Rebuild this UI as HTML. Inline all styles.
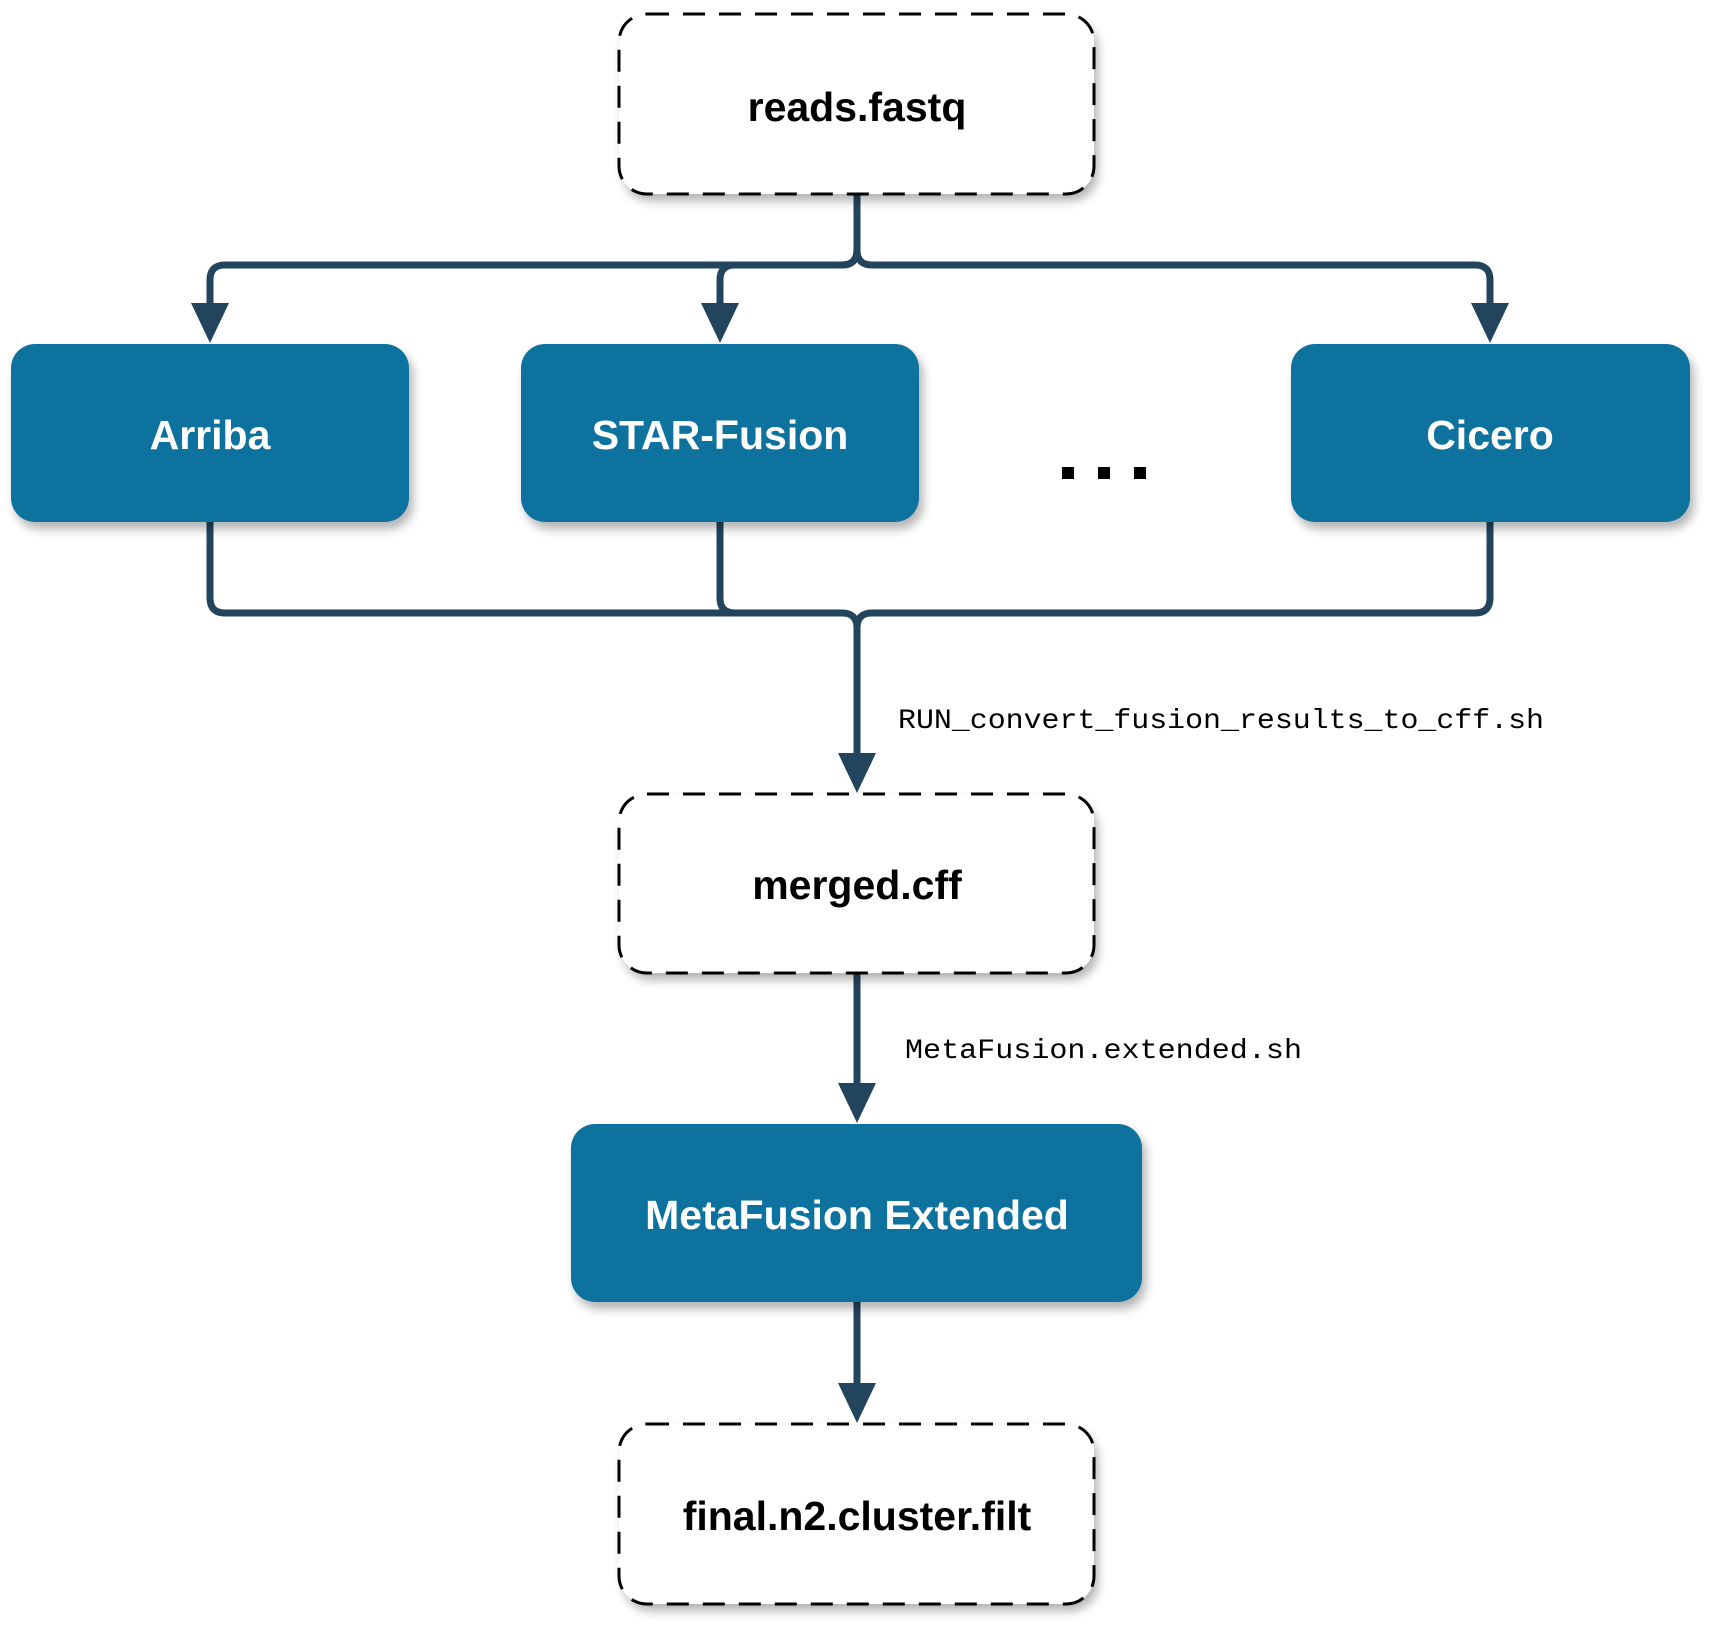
<!DOCTYPE html>
<html><head><meta charset="utf-8"><style>
html,body{margin:0;padding:0;background:#fff;}
svg{display:block;}
</style></head><body>
<svg width="1713" height="1629" viewBox="0 0 1713 1629" xmlns="http://www.w3.org/2000/svg">
<defs>
<filter id="sh" x="-10%" y="-10%" width="130%" height="140%">
<feGaussianBlur in="SourceAlpha" stdDeviation="5"/>
<feOffset dx="4" dy="7" result="o"/>
<feComponentTransfer><feFuncA type="linear" slope="0.3"/></feComponentTransfer>
<feMerge><feMergeNode/><feMergeNode in="SourceGraphic"/></feMerge>
</filter>
</defs>
<g fill="none" stroke="#23445d" stroke-width="7" stroke-linejoin="round">
<!-- top splits -->
<path d="M857 194 V250 Q857 265 842 265 H225 Q210 265 210 280 V310"/>
<path d="M857 250 Q857 265 842 265 H735 Q720 265 720 280 V310" />
<path d="M857 194 V250 Q857 265 872 265 H1475 Q1490 265 1490 280 V310"/>
<!-- merges -->
<path d="M210 522 V598 Q210 613 225 613 H842 Q857 613 857 628 V760"/>
<path d="M720 522 V598 Q720 613 735 613"/>
<path d="M1490 522 V598 Q1490 613 1475 613 H872 Q857 613 857 628"/>
<path d="M857 973 V1092"/>
<path d="M857 1302 V1392"/>
</g>
<g fill="#23445d">
<polygon points="191,303 229,303 210,343"/>
<polygon points="701,303 739,303 720,343"/>
<polygon points="1471,303 1509,303 1490,343"/>
<polygon points="838,753 876,753 857,793"/>
<polygon points="838,1083 876,1083 857,1123"/>
<polygon points="838,1383 876,1383 857,1423"/>
</g>
<g filter="url(#sh)">
<rect x="619" y="14" width="475" height="180" rx="28" fill="#fff"/>
<rect x="619" y="794" width="475" height="179" rx="28" fill="#fff"/>
<rect x="619" y="1424" width="475" height="180" rx="28" fill="#fff"/>
<rect x="11" y="344" width="398" height="178" rx="24" fill="#10739e"/>
<rect x="521" y="344" width="398" height="178" rx="24" fill="#10739e"/>
<rect x="1291" y="344" width="399" height="178" rx="24" fill="#10739e"/>
<rect x="571" y="1124" width="571" height="178" rx="24" fill="#10739e"/>
</g>
<g fill="none" stroke="#000" stroke-width="3" stroke-dasharray="22 14">
<rect x="619" y="14" width="475" height="180" rx="28"/>
<rect x="619" y="794" width="475" height="179" rx="28"/>
<rect x="619" y="1424" width="475" height="180" rx="28"/>
</g>
<g font-family="Liberation Sans, Arial, sans-serif" font-weight="bold" font-size="41" text-anchor="middle">
<text x="857" y="121" fill="#000">reads.fastq</text>
<text x="857" y="899" fill="#000">merged.cff</text>
<text x="857" y="1530" fill="#000">final.n2.cluster.filt</text>
<text x="210" y="449" fill="#fff">Arriba</text>
<text x="720" y="449" fill="#fff">STAR-Fusion</text>
<text x="1490" y="449" fill="#fff">Cicero</text>
<text x="857" y="1229" fill="#fff">MetaFusion Extended</text>
</g>
<g fill="#000">
<rect x="1062" y="467" width="12" height="12"/>
<rect x="1098" y="467" width="12" height="12"/>
<rect x="1134" y="467" width="12" height="12"/>
</g>
<g font-family="Liberation Mono, DejaVu Sans Mono, monospace" font-size="28" fill="#000">
<text x="898" y="728" textLength="646" lengthAdjust="spacingAndGlyphs">RUN_convert_fusion_results_to_cff.sh</text>
<text x="905" y="1058" textLength="397" lengthAdjust="spacingAndGlyphs">MetaFusion.extended.sh</text>
</g>
</svg>
</body></html>
